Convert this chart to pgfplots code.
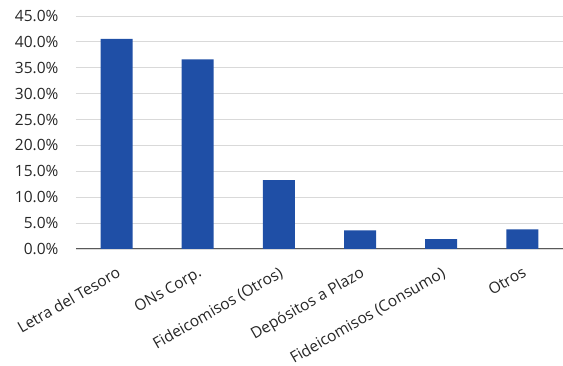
\documentclass[border=0pt]{standalone}
\usepackage{pgfplots}
\pgfplotsset{compat=1.18}
\usepackage{fontspec}
\setmainfont{Open Sans}
\definecolor{barblue}{HTML}{1F4FA6}
\definecolor{gridgray}{HTML}{D9D9D9}
\definecolor{txt}{HTML}{262626}
\begin{document}
\begin{tikzpicture}
\path[use as bounding box] (-76pt,-117pt) rectangle (487pt,249pt);
\begin{axis}[
  at={(0,0)}, anchor=south west,
  scale only axis, width=487pt, height=233pt,
  xmin=-0.5, xmax=5.5, ymin=0, ymax=45,
  axis x line*=bottom, axis y line*=left,
  axis line style={-},
  y axis line style={draw=none},
  x axis line style={draw=black!65, line width=1pt},
  tick style={draw=none},
  ytick={0,5,...,45},
  ymajorgrids, grid style={gridgray, line width=0.9pt},
  /pgf/number format/assume math mode=true,
  yticklabel={\pgfmathprintnumber[fixed,fixed zerofill,precision=1]{\tick}\%},
  yticklabel style={font=\fontsize{15.5}{16}\selectfont, text=txt, anchor=east, xshift=-14pt},
  xtick={0,1,2,3,4,5},
  xticklabels={Letra del Tesoro, ONs Corp., Fideicomisos (Otros), Depósitos a Plazo, Fideicomisos (Consumo), Otros},
  xticklabel style={font=\fontsize{15.5}{16}\selectfont, text=txt, rotate=30, anchor=north east, inner sep=1pt, xshift=-8pt, yshift=-13pt},
  ]
\addplot[ybar, bar width=32pt, fill=barblue, draw=none] coordinates {
  (0,40.6) (1,36.6) (2,13.3) (3,3.6) (4,1.9) (5,3.8)
};
\end{axis}
\end{tikzpicture}
\end{document}
